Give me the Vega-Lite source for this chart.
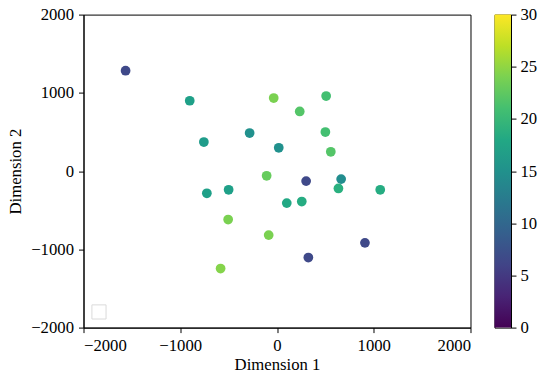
{
  "$schema": "https://vega.github.io/schema/vega-lite/v6.json",
  "padding": {"left": 6.5, "top": 5.6, "right": 5, "bottom": 5},
  "background": "white",
  "spacing": 24,
  "bounds": "flush",
  "config": {
    "font": "Liberation Serif",
    "view": {"stroke": "black", "strokeWidth": 1},
    "axis": {
      "grid": false,
      "domainColor": "black",
      "tickColor": "black",
      "tickSize": 5,
      "labelColor": "black",
      "titleColor": "black",
      "labelFont": "Liberation Serif",
      "titleFont": "Liberation Serif",
      "labelFontSize": 16.7,
      "titleFontSize": 16.7,
      "titleFontWeight": "normal",
      "labelPadding": 5,
      "format": "d"
    }
  },
  "datasets": {
    "pts": [
      {"x": -1565, "y": 1283, "v": 6.5},
      {"x": -902, "y": 899, "v": 17},
      {"x": -34, "y": 934, "v": 24},
      {"x": 235, "y": 762, "v": 22},
      {"x": 508, "y": 959, "v": 21},
      {"x": -283, "y": 486, "v": 15},
      {"x": -756, "y": 371, "v": 16.5},
      {"x": 18, "y": 298, "v": 15},
      {"x": 500, "y": 499, "v": 21},
      {"x": 556, "y": 247, "v": 22},
      {"x": -107, "y": -60, "v": 23},
      {"x": 301, "y": -128, "v": 6.5},
      {"x": 663, "y": -102, "v": 14.5},
      {"x": 635, "y": -222, "v": 19},
      {"x": 1067, "y": -239, "v": 18.5},
      {"x": -725, "y": -284, "v": 17},
      {"x": -500, "y": -239, "v": 17},
      {"x": 101, "y": -409, "v": 18},
      {"x": 256, "y": -389, "v": 18.5},
      {"x": -505, "y": -619, "v": 24},
      {"x": -86, "y": -818, "v": 24},
      {"x": -583, "y": -1245, "v": 24.5},
      {"x": 909, "y": -917, "v": 6.5},
      {"x": 324, "y": -1105, "v": 6.5}
    ],
    "cbar": [{"lo": 0, "hi": 30}]
  },
  "hconcat": [
    {
      "width": 387,
      "height": 313,
      "layer": [
        {
          "data": {"name": "pts"},
          "mark": {"type": "circle", "size": 95, "opacity": 1},
          "encoding": {
            "x": {"field": "x", "type": "quantitative", "title": "Dimension 1",
                  "scale": {"domain": [-2000, 2000], "nice": false},
                  "axis": {"values": [-2000, -1000, 0, 1000, 2000], "titlePadding": 2}},
            "y": {"field": "y", "type": "quantitative", "title": "Dimension 2",
                  "scale": {"domain": [-2000, 2000], "nice": false},
                  "axis": {"values": [-2000, -1000, 0, 1000, 2000], "titlePadding": 6}},
            "color": {"field": "v", "type": "quantitative",
                      "scale": {"scheme": "viridis", "domain": [0, 30]},
                      "legend": null}
          }
        },
        {
          "data": {"values": [{"bx": -1840, "by": -1800}]},
          "mark": {"type": "square", "size": 200, "filled": false, "stroke": "#cccccc", "strokeWidth": 1},
          "encoding": {
            "x": {"field": "bx", "type": "quantitative"},
            "y": {"field": "by", "type": "quantitative"}
          }
        }
      ]
    },
    {
      "width": 16.5,
      "height": 313,
      "data": {"name": "cbar"},
      "mark": {
        "type": "rect",
        "fill": {
          "gradient": "linear", "x1": 0, "y1": 1, "x2": 0, "y2": 0,
          "stops": [
            {"offset": 0.0, "color": "#440154"},
            {"offset": 0.1, "color": "#482475"},
            {"offset": 0.2, "color": "#414487"},
            {"offset": 0.3, "color": "#355f8d"},
            {"offset": 0.4, "color": "#2a788e"},
            {"offset": 0.5, "color": "#21918c"},
            {"offset": 0.6, "color": "#22a884"},
            {"offset": 0.7, "color": "#44bf70"},
            {"offset": 0.8, "color": "#7ad151"},
            {"offset": 0.9, "color": "#bddf26"},
            {"offset": 1.0, "color": "#fde725"}
          ]
        }
      },
      "encoding": {
        "x": {"datum": 0, "type": "quantitative", "scale": {"domain": [0, 1]}, "axis": null},
        "x2": {"datum": 1},
        "y": {"field": "lo", "type": "quantitative", "title": null,
              "scale": {"domain": [0, 30], "nice": false},
              "axis": {"orient": "right", "values": [0, 5, 10, 15, 20, 25, 30], "labelPadding": 4}},
        "y2": {"field": "hi"}
      }
    }
  ]
}
